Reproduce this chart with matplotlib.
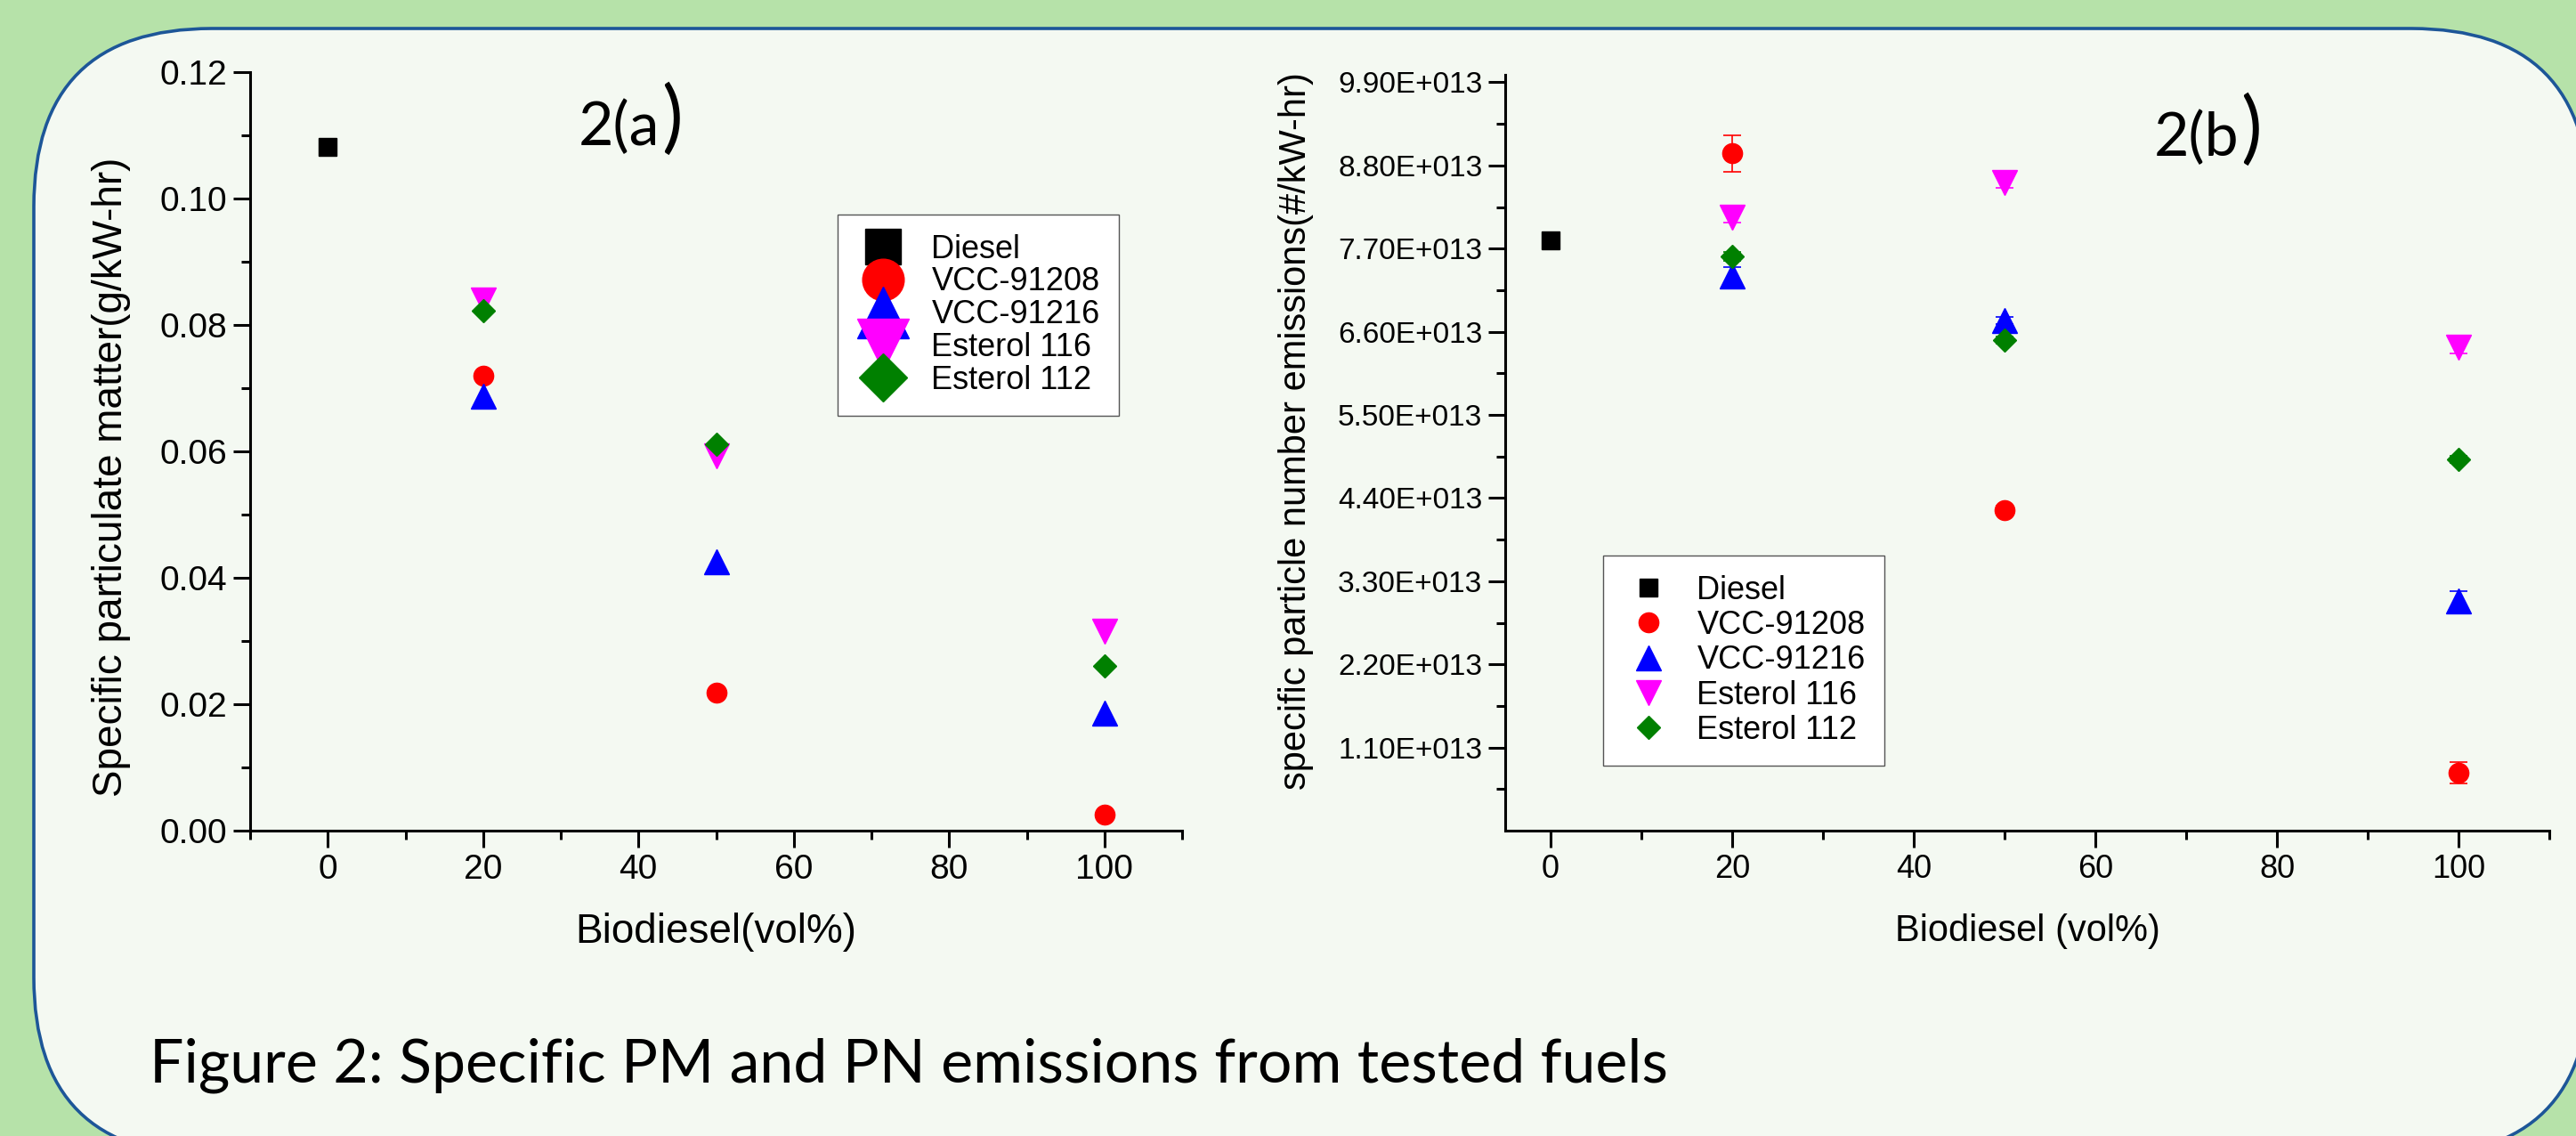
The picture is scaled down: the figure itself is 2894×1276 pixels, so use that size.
import matplotlib
matplotlib.use("Agg")
import matplotlib.pyplot as plt
from matplotlib.patches import FancyBboxPatch
from matplotlib.ticker import FixedLocator, MultipleLocator, FuncFormatter, FormatStrFormatter
import numpy as np

W, H = 2894, 1276
DPI = 100

# data
blend = [0, 20, 50, 100]           # Biodiesel vol%
fuels = ["Diesel", "VCC-91208", "VCC-91216", "Esterol 116", "Esterol 112"]
colors = ["#000000", "#ff0000", "#0000ff", "#ff00ff", "#008000"]
markers = ["s", "o", "^", "v", "D"]
msizes = [14, 16, 20, 20, 13]

# panel (a): specific PM (g/kW-hr); Diesel only at 0 %
pm_diesel = [0.1081]
pm_vcc208 = [0.0720, 0.0219, 0.0025]
pm_vcc216 = [0.0688, 0.0426, 0.0186]
pm_est116 = [0.0839, 0.0593, 0.0315]
pm_est112 = [0.0822, 0.0611, 0.0260]

# panel (b): specific PN (#/kW-hr), in units of 1e13
pn_diesel = [7.81]
pn_vcc208 = [8.96, 4.24, 0.77]
pn_vcc216 = [7.34, 6.75, 3.04]
pn_est116 = [8.12, 8.58, 6.39]
pn_est112 = [7.60, 6.49, 4.91]
# error bars (1e13)
pn_diesel_err = [0.05]
pn_vcc208_err = [0.24, 0.06, 0.14]
pn_vcc216_err = [0.12, 0.05, 0.13]
pn_est116_err = [0.08, 0.08, 0.08]
pn_est112_err = [0.06, 0.05, 0.05]

pm_series = [pm_diesel, pm_vcc208, pm_vcc216, pm_est116, pm_est112]
pn_series = [pn_diesel, pn_vcc208, pn_vcc216, pn_est116, pn_est112]
pn_errs = [pn_diesel_err, pn_vcc208_err, pn_vcc216_err, pn_est116_err, pn_est112_err]

SANS = ["Liberation Sans", "DejaVu Sans"]
CAP = ["Lato", "DejaVu Sans"]
plt.rcParams["font.family"] = SANS

fig = plt.figure(figsize=(W / DPI, H / DPI), dpi=DPI, facecolor="#b6e2a9")

# rounded poster panel behind everything (runs off the bottom and right edges)
bg = fig.add_axes([0, 0, 1, 1], zorder=-10)
bg.set_xlim(0, W); bg.set_ylim(H, 0); bg.axis("off")
bg.add_patch(FancyBboxPatch((38, 32), 2871, 1266, boxstyle="round,pad=0,rounding_size=200",
                            facecolor="#f4f9f2", edgecolor="#1d5698", linewidth=2.6))


def xs_for(series):
    return blend[:1] if len(series) == 1 else blend[1:]


def style_axes(ax, xlo, tick_fs_x, tick_fs_y):
    ax.patch.set_alpha(0)
    for s in ("top", "right"):
        ax.spines[s].set_visible(False)
    for s in ("left", "bottom"):
        ax.spines[s].set_linewidth(2.2)
    ax.set_xlim(xlo, 110)
    ax.xaxis.set_major_locator(FixedLocator([0, 20, 40, 60, 80, 100]))
    ax.xaxis.set_minor_locator(FixedLocator([-10, 10, 30, 50, 70, 90, 110]))
    ax.tick_params(which="major", direction="out", length=13.5, width=2.2, pad=5)
    ax.tick_params(which="minor", direction="out", length=7, width=2.2)
    ax.tick_params(axis="x", labelsize=tick_fs_x)
    ax.tick_params(axis="y", labelsize=tick_fs_y)


# ---- panel (a)
axA = fig.add_axes([281 / W, 343 / H, 1047 / W, 852 / H])
style_axes(axA, -10, 28, 28)
axA.set_ylim(0, 0.12)
axA.yaxis.set_major_locator(MultipleLocator(0.02))
axA.yaxis.set_minor_locator(MultipleLocator(0.01))
axA.yaxis.set_major_formatter(FormatStrFormatter("%.2f"))
for ser, name, c, m, ms in zip(pm_series, fuels, colors, markers, msizes):
    axA.plot(xs_for(ser), ser, ls="none", marker=m, ms=ms, color=c, mec=c, label=name)
axA.set_xlabel("Biodiesel(vol%)", fontsize=33)
axA.xaxis.set_label_coords(0.5, -0.108)
axA.set_ylabel("Specific particulate matter(g/kW-hr)", fontsize=33)
axA.yaxis.set_label_coords(-0.128, 0.466)
axA.legend(loc="upper left", bbox_to_anchor=(941 / W, 1 - 241 / H), bbox_transform=fig.transFigure,
           borderaxespad=0, fontsize=26, markerscale=2.1, frameon=True, fancybox=False,
           edgecolor="#555555", framealpha=1, handlelength=1.6, handletextpad=0.72,
           borderpad=0.6, labelspacing=0.05)

# ---- panel (b)
axB = fig.add_axes([1691 / W, 343 / H, 1173 / W, 849 / H])
style_axes(axB, -5, 26, 24)
axB.set_ylim(0, 1e14)
axB.yaxis.set_major_locator(FixedLocator([1.1e13 * k for k in range(1, 10)]))
axB.yaxis.set_minor_locator(FixedLocator([0.55e13 + 1.1e13 * k for k in range(0, 9)]))
axB.yaxis.set_major_formatter(FuncFormatter(lambda v, p: f"{v / 1e13:.2f}E+013"))
for ser, err, name, c, m, ms in zip(pn_series, pn_errs, fuels, colors, markers, msizes):
    yv = np.array(ser) * 1e13
    axB.errorbar(xs_for(ser), yv, yerr=np.array(err) * 1e13, fmt="none", ecolor=c,
                 elinewidth=1.2, capsize=7, capthick=1.2, zorder=2)
    axB.plot(xs_for(ser), yv, ls="none", marker=m, ms=ms, color=c, mec=c, label=name, zorder=3)
axB.set_xlabel("Biodiesel (vol%)", fontsize=30)
axB.xaxis.set_label_coords(0.5, -0.11)
axB.set_ylabel("specific particle number emissions(#/kW-hr)", fontsize=30)
axB.yaxis.set_label_coords(-0.183, 0.529)
axB.legend(loc="upper left", bbox_to_anchor=(1801 / W, 1 - 624 / H), bbox_transform=fig.transFigure,
           borderaxespad=0, fontsize=26, markerscale=1.0, frameon=True, fancybox=False,
           edgecolor="#555555", framealpha=1, handlelength=1.6, handletextpad=0.72,
           borderpad=0.6, labelspacing=0.12)

# panel tags "2(a)" / "2(b)" with the oversized closing bracket
fig.canvas.draw()
for x0, base, tag in [(650, 163, "2(a"), (2420, 175, "2(b")]:
    t = bg.text(x0, base, tag, fontsize=49, family=CAP, va="baseline", ha="left")
    bb = t.get_window_extent(renderer=fig.canvas.get_renderer())
    bg.text(bb.x1 + 2, base - 2, ")", fontsize=64, family=CAP, va="baseline", ha="left")

bg.text(168, 1216, "Figure 2: Specific PM and PN emissions from tested fuels",
        fontsize=49, family=CAP, va="baseline", ha="left")

fig.savefig("out.png", dpi=DPI, facecolor=fig.get_facecolor())
